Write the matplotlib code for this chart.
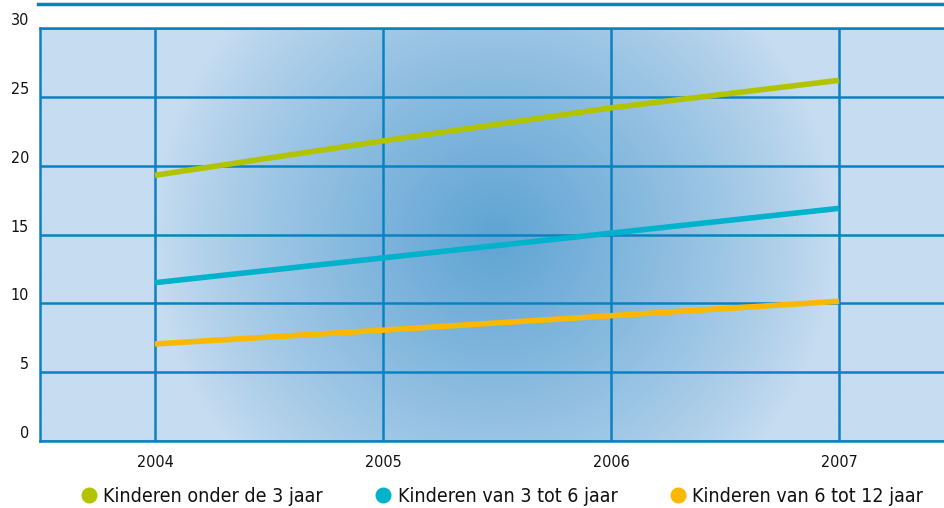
import numpy as np
import matplotlib
matplotlib.use("Agg")
import matplotlib.pyplot as plt
from matplotlib.lines import Line2D
from matplotlib.colors import to_rgb

plt.rcParams['font.family'] = ['DejaVu Sans']
plt.rcParams['font.stretch'] = 'condensed'

years = [2004, 2005, 2006, 2007]
onder_3 = [19.3, 21.8, 24.2, 26.2]
van_3_tot_6 = [11.5, 13.3, 15.1, 16.9]
van_6_tot_12 = [7.05, 8.05, 9.1, 10.15]
labels = ["Kinderen onder de 3 jaar", "Kinderen van 3 tot 6 jaar", "Kinderen van 6 tot 12 jaar"]
colors = ["#b2c300", "#00b2cc", "#fbb800"]
y_ticks = [0, 5, 10, 15, 20, 25, 30]

grid_blue = "#0a82c2"

fig = plt.figure(figsize=(9.44, 5.08), dpi=100)
ax = fig.add_axes([40 / 944, 67 / 508, 904 / 944, 413 / 508])
ax.set_xlim(2003.496, 2007.46)

# radial background shading
light = np.array(to_rgb("#c6dcf0"))
dark = np.array(to_rgb("#5fa4d4"))
gx, gy = np.meshgrid(np.linspace(0, 904, 452), np.linspace(0, 413, 207))
cx, cy = 455, 205
r = np.sqrt(((gx - cx) / 340) ** 2 + ((gy - cy) / 330) ** 2)
t = np.clip(1 - r, 0, 1) ** 0.85
img = light[None, None, :] + (dark - light)[None, None, :] * t[:, :, None]
ax.imshow(img, extent=[2003.496, 2007.46, 30, 0], aspect="auto", zorder=0,
          interpolation="bilinear")
ax.set_ylim(0, 30)

ax.set_xticks(years)
ax.set_yticks(y_ticks)
ax.grid(True, color=grid_blue, linewidth=1.8, zorder=1)
ax.set_axisbelow(False)
for s in ["top", "left", "bottom"]:
    ax.spines[s].set_color(grid_blue)
    ax.spines[s].set_linewidth(1.8)
ax.spines["right"].set_visible(False)
ax.tick_params(length=0, labelsize=11.5, colors="#111111")
ax.tick_params(axis="y", pad=8)
ax.tick_params(axis="x", pad=10)
for lbl in ax.get_yticklabels():
    lbl.set_verticalalignment("bottom")

series = [onder_3, van_3_tot_6, van_6_tot_12]
for vals, c in zip(series, colors):
    ax.plot(years, vals, color=c, linewidth=4, solid_capstyle="butt", zorder=3)

fig.add_artist(Line2D([38 / 944, 1.0], [504 / 508, 504 / 508], color=grid_blue, linewidth=2.5))

handles = [Line2D([], [], marker="o", linestyle="none", markersize=10.5, color=c) for c in colors]
fig.legend(handles, labels, loc="center", bbox_to_anchor=(501 / 944, 12 / 508), ncol=3,
           frameon=False, fontsize=14, handletextpad=0.25, columnspacing=2.6,
           handlelength=1.0, borderpad=0, labelcolor="#111111")

fig.savefig("out.png", dpi=100)
